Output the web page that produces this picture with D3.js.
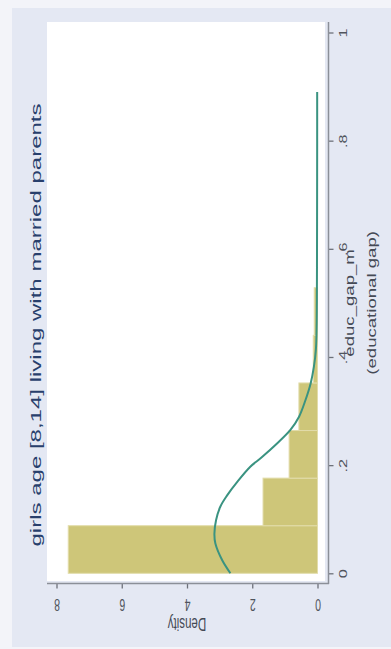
<!DOCTYPE html>
<html>
<head>
<meta charset="utf-8">
<script src="https://cdn.jsdelivr.net/npm/d3@7"></script>
<style>
  html, body { margin: 0; padding: 0; background: #f3f4f9; }
  svg { display: block; }
</style>
</head>
<body>
<svg id="chart" width="391" height="649"></svg>
<script>
// Histogram of the educational gap (bins start at 0, width 0.088), density scale
const binStarts = [0, 0.088, 0.176, 0.264, 0.352, 0.44];
const binWidth = 0.088;
const binDensity = [7.64, 1.67, 0.87, 0.57, 0.13, 0.10];

// Kernel density estimate overlaid on the histogram
const kdeX = [0.000, 0.024, 0.055, 0.073, 0.098, 0.123, 0.144, 0.169, 0.197, 0.215,
              0.240, 0.265, 0.289, 0.320, 0.351, 0.382, 0.413, 0.444, 0.500, 0.600,
              0.700, 0.800, 0.890];
const kdeY = [2.67, 2.92, 3.13, 3.16, 3.11, 2.98, 2.77, 2.46, 2.06, 1.70,
              1.24, 0.83, 0.57, 0.37, 0.21, 0.11, 0.05, 0.03, 0.02, 0.015,
              0.012, 0.01, 0.01];

const gapTicks = [0, 0.2, 0.4, 0.6, 0.8, 1];
const gapTickLabels = ["0", ".2", ".4", ".6", ".8", "1"];
const densityTicks = [0, 2, 4, 6, 8];
const densityTickLabels = ["0", "2", "4", "6", "8"];

const titleText = "girls age [8,14] living with married parents";
const gapTitleLines = ["educ_gap_m", "(educational gap)"];
const densityTitle = "Density";

// ---- layout (graph is laid out sideways: gap runs up the page, density runs leftwards)
const W = 391, H = 649;
const stretch = 1.55;              // text is drawn taller along the page's vertical
const font = "'Liberation Sans', Arial, Helvetica, sans-serif";
const plot = { left: 47, top: 22, right: 325, bottom: 581 };
const axisX = 328.5;               // vertical axis for the gap
const axisY = 583.5;               // horizontal axis for density

const svg = d3.select("#chart");

// backgrounds
svg.append("rect").attr("x", 0).attr("y", 0).attr("width", W).attr("height", H)
  .attr("fill", "#f3f4f9");
svg.append("rect").attr("x", 12).attr("y", 8).attr("width", W - 12).attr("height", H - 10)
  .attr("fill", "#e4e8f3");
svg.append("rect").attr("x", plot.left).attr("y", plot.top)
  .attr("width", plot.right - plot.left).attr("height", plot.bottom - plot.top)
  .attr("fill", "#ffffff");

// scales
const gap = d3.scaleLinear().domain([0, 1]).range([573.3, 32.5]);
const dens = d3.scaleLinear().domain([0, 8]).range([317.5, 56.5]);

// histogram bars
const bins = binStarts.map((s, i) => ({ x0: s, x1: s + binWidth, d: binDensity[i] }));
svg.append("g").selectAll("rect").data(bins).join("rect")
  .attr("x", b => dens(b.d))
  .attr("width", b => dens(0) - dens(b.d))
  .attr("y", b => gap(b.x1))
  .attr("height", b => gap(b.x0) - gap(b.x1))
  .attr("fill", "#cec679")
  .attr("stroke", "#e2dcaa")
  .attr("stroke-width", 1);

// kernel density line
const kde = kdeX.map((x, i) => ({ x, y: kdeY[i] }));
svg.append("path").datum(kde)
  .attr("fill", "none")
  .attr("stroke", "#3a9381")
  .attr("stroke-width", 2)
  .attr("d", d3.line().x(p => dens(p.y)).y(p => gap(p.x)).curve(d3.curveCatmullRom));

// gap axis (right side)
const gAxis = svg.append("g").attr("transform", `translate(${axisX},0)`)
  .call(d3.axisRight(gap).tickValues(gapTicks)
    .tickFormat((d, i) => gapTickLabels[i]).tickSize(5).tickSizeOuter(0));
gAxis.select(".domain").remove();
gAxis.append("line").attr("x1", 0).attr("x2", 0).attr("y1", plot.top).attr("y2", axisY + 0.5)
  .attr("stroke", "#8b8f98").attr("stroke-width", 1.5);
gAxis.selectAll(".tick line").attr("stroke", "#6d717a").attr("stroke-width", 1.3);
gAxis.selectAll(".tick text")
  .attr("x", null).attr("y", null).attr("dy", null)
  .attr("transform", `translate(18.5,0) scale(1,${stretch}) rotate(-90)`)
  .attr("text-anchor", "middle")
  .attr("font-family", font).attr("font-size", 10.5)
  .attr("fill", "#50545c");

// density axis (bottom)
const dAxis = svg.append("g").attr("transform", `translate(0,${axisY})`)
  .call(d3.axisBottom(dens).tickValues(densityTicks)
    .tickFormat((d, i) => densityTickLabels[i]).tickSize(5).tickSizeOuter(0));
dAxis.select(".domain").remove();
dAxis.append("line").attr("x1", plot.left).attr("x2", axisX + 0.5).attr("y1", 0).attr("y2", 0)
  .attr("stroke", "#8b8f98").attr("stroke-width", 1.5);
dAxis.selectAll(".tick line").attr("stroke", "#6d717a").attr("stroke-width", 1.3);
dAxis.selectAll(".tick text")
  .attr("x", null).attr("y", null).attr("dy", null)
  .attr("transform", `translate(0,15.5) scale(1,${stretch}) rotate(180)`)
  .attr("text-anchor", "middle")
  .attr("font-family", font).attr("font-size", 10.5)
  .attr("fill", "#50545c");

// axis titles
svg.append("text")
  .attr("transform", `translate(${dens(4)},618) scale(1,${stretch}) rotate(180)`)
  .attr("text-anchor", "middle")
  .attr("font-family", font).attr("font-size", 11.5)
  .attr("fill", "#454a55")
  .text(densityTitle);

const gapMid = gap(0.5);
svg.append("g").selectAll("text").data(gapTitleLines).join("text")
  .attr("transform", (d, i) => `translate(${[354, 376][i]},${gapMid}) scale(1,${stretch}) rotate(-90)`)
  .attr("text-anchor", "middle")
  .attr("font-family", font).attr("font-size", 12)
  .attr("fill", "#454a55")
  .text(d => d);

// chart title
svg.append("text")
  .attr("transform", `translate(41,325) scale(1,${stretch}) rotate(-90)`)
  .attr("text-anchor", "middle")
  .attr("font-family", font).attr("font-size", 15.5)
  .attr("fill", "#283f6c")
  .text(titleText);
</script>
</body>
</html>
